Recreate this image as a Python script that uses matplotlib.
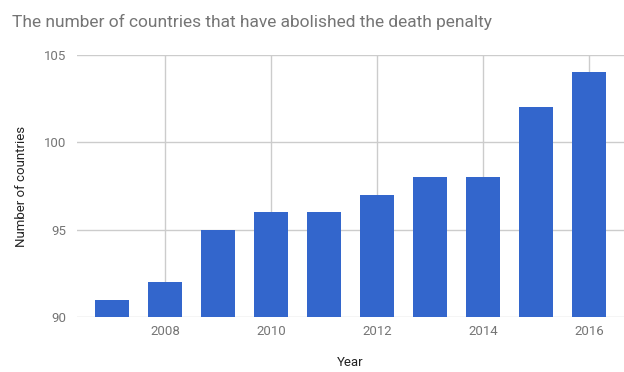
import matplotlib
matplotlib.use('Agg')
import matplotlib.pyplot as plt

plt.rcParams['font.family'] = ['Roboto', 'DejaVu Sans']

# dados
anos = [2007, 2008, 2009, 2010, 2011, 2012, 2013, 2014, 2015, 2016]
paises = [91, 92, 95, 96, 96, 97, 98, 98, 102, 104]
ticks_x = [2008, 2010, 2012, 2014, 2016]
ticks_y = [90, 95, 100, 105]

fig = plt.figure(figsize=(6.24, 3.72), dpi=100)
ax = fig.add_axes([77 / 624, 1 - 317 / 372, 547 / 624, 262 / 372])

ax.bar(anos, [v - 90 for v in paises], bottom=90, width=0.64, color='#3366cc', zorder=3)

ax.set_xlim(2006.34, 2016.66)
ax.set_ylim(90, 105)
ax.set_xticks(ticks_x)
ax.set_yticks(ticks_y)
ax.grid(True, color='#cccccc', linewidth=1, zorder=0)
for s in ax.spines.values():
    s.set_visible(False)
ax.tick_params(length=0, labelsize=9.5, colors='#757575', pad=8)
ax.tick_params(axis='x', pad=6)

ax.set_xlabel('Year', fontsize=9.5, color='#222222', labelpad=13)
ax.set_ylabel('Number of countries', fontsize=9.5, color='#222222', labelpad=11)

fig.text(12 / 624, 1 - 22 / 372, 'The number of countries that have abolished the death penalty',
         fontsize=12.5, color='#757575', va='center', ha='left')

fig.savefig('out.png', dpi=100)
